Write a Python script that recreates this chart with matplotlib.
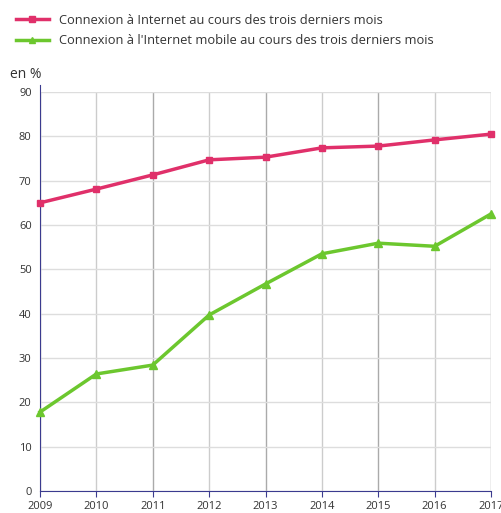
import matplotlib
matplotlib.use('Agg')
import matplotlib.pyplot as plt
from matplotlib.lines import Line2D

plt.rcParams['font.family'] = ['Open Sans', 'DejaVu Sans']

# Données
annees = [2009, 2010, 2011, 2012, 2013, 2014, 2015, 2016, 2017]
internet = [65.0, 68.1, 71.3, 74.7, 75.3, 77.4, 77.8, 79.2, 80.5]
mobile = [17.8, 26.4, 28.4, 39.7, 46.7, 53.5, 55.9, 55.2, 62.5]
lab_internet = "Connexion à Internet au cours des trois derniers mois"
lab_mobile = "Connexion à l'Internet mobile au cours des trois derniers mois"
rose = '#e0306a'
vert = '#6cc72e'

fig = plt.figure(figsize=(5.01, 5.13), dpi=100)
ax = fig.add_axes([40/501, 22/513, 451/501, 399/513])

ax.plot(annees, internet, color=rose, lw=2.5, marker='s', ms=5, label=lab_internet, clip_on=False, zorder=3)
ax.plot(annees, mobile, color=vert, lw=2.5, marker='^', ms=6, label=lab_mobile, clip_on=False, zorder=3)

ax.set_xlim(2009, 2017)
ax.set_ylim(0, 90)
ax.set_xticks(annees)
ax.set_yticks(range(0, 91, 10))
ax.tick_params(labelsize=8, colors='#333333', length=4)
ax.tick_params(axis='y', length=0, pad=6)
ax.tick_params(axis='x', color='#3b3b8f', pad=3)

ax.grid(axis='y', color='#dddddd', lw=1)
for i, a in enumerate(annees):
    ax.axvline(a, color='#aaaaaa' if i % 2 == 0 else '#cccccc', lw=1, zorder=0)

for s in ['top', 'right']:
    ax.spines[s].set_visible(False)
ax.spines['left'].set_color('#3b3b8f')
ax.spines['bottom'].set_color('#3b3b8f')
ax.spines['left'].set_bounds(0, 91.5)

fig.text(10/501, 1 - 74/513, "en %", fontsize=10, color='#333333', va='center')

handles = [Line2D([0], [0], color=rose, lw=2.5, marker='s', ms=4),
           Line2D([0], [0], color=vert, lw=2.5, marker='^', ms=5)]
fig.legend(handles, [lab_internet, lab_mobile], loc='upper left',
           bbox_to_anchor=(4/501, 1 - 2/513), frameon=False, fontsize=9.3,
           handlelength=2.6, labelspacing=0.6, handletextpad=0.75, labelcolor='#333333')

fig.savefig('out.png', dpi=100)
